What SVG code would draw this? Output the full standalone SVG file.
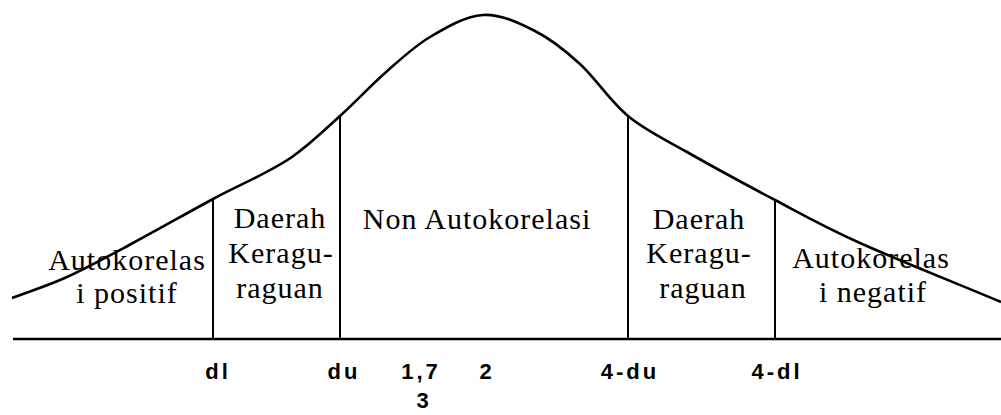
<svg xmlns="http://www.w3.org/2000/svg" width="1001" height="415" viewBox="0 0 1001 415">
<style>
.ln{stroke:#000;fill:none;stroke-width:2;stroke-linecap:butt}
.crv{stroke:#000;fill:none;stroke-width:2.6;stroke-linejoin:round}
.reg{font-family:"Liberation Serif","Times New Roman",serif;font-size:30px;letter-spacing:1px;fill:#000;text-anchor:middle}
.ax{font-family:"Liberation Sans",Arial,sans-serif;font-size:22px;font-weight:bold;letter-spacing:3px;fill:#000;text-anchor:middle}
</style>
<rect width="1001" height="415" fill="#fff"/>
<g id="connectors">
<path id="curve" class="crv" d="M12,298 C30.3,291 46.8,286.2 67,277 C87.2,267.8 108.7,256 133,243 C157.3,230 186.8,213.2 213,199 C239.2,184.8 268.8,173 292,157 C311.2,143.5 324.2,130.2 340,116 C355.8,101.8 370,86.2 385,73 C400,59.8 413.7,46.7 430,37 C446.3,27.3 465.5,16 483,15 C500.5,14 518.8,22.8 535,31 C551.2,39.2 564.5,49.8 580,64 C595.5,78.2 610.2,101.3 628,116 C645.8,130.7 662.5,138 687,152 C711.5,166 746.2,184.8 775,200 C803.8,215.2 822.3,226 860,243 C897.7,260 954,282.3 1001,302"/>
<line id="axis" class="ln" x1="13" y1="339" x2="1001" y2="339" style="stroke-width:2.5"/>
<line id="v-dl" class="ln" x1="213" y1="199" x2="213" y2="339"/>
<line id="v-du" class="ln" x1="340" y1="116" x2="340" y2="339"/>
<line id="v-4du" class="ln" x1="628" y1="116" x2="628" y2="339"/>
<line id="v-4dl" class="ln" x1="775" y1="200" x2="775" y2="339"/>
</g>
<g id="region-autokorelasi-positif">
<text class="reg" x="127" y="270">Autokorelas</text>
<text class="reg" x="127" y="303">i positif</text>
</g>
<g id="region-keraguan-kiri">
<text class="reg" x="280" y="228">Daerah</text>
<text class="reg" x="281" y="263">Keragu-</text>
<text class="reg" x="280" y="298">raguan</text>
</g>
<g id="region-non-autokorelasi">
<text class="reg" x="477" y="229">Non Autokorelasi</text>
</g>
<g id="region-keraguan-kanan">
<text class="reg" x="699" y="229">Daerah</text>
<text class="reg" x="699" y="263">Keragu-</text>
<text class="reg" x="703" y="298">raguan</text>
</g>
<g id="region-autokorelasi-negatif">
<text class="reg" x="871" y="268">Autokorelas</text>
<text class="reg" x="873" y="302">i negatif</text>
</g>
<g id="axis-labels">
<text class="ax" x="218" y="379">dl</text>
<text class="ax" x="344" y="379">du</text>
<text class="ax" x="421" y="379">1,7</text>
<text class="ax" x="424" y="408">3</text>
<text class="ax" x="487" y="379">2</text>
<text class="ax" x="630" y="379">4-du</text>
<text class="ax" x="777" y="379">4-dl</text>
</g>
</svg>
